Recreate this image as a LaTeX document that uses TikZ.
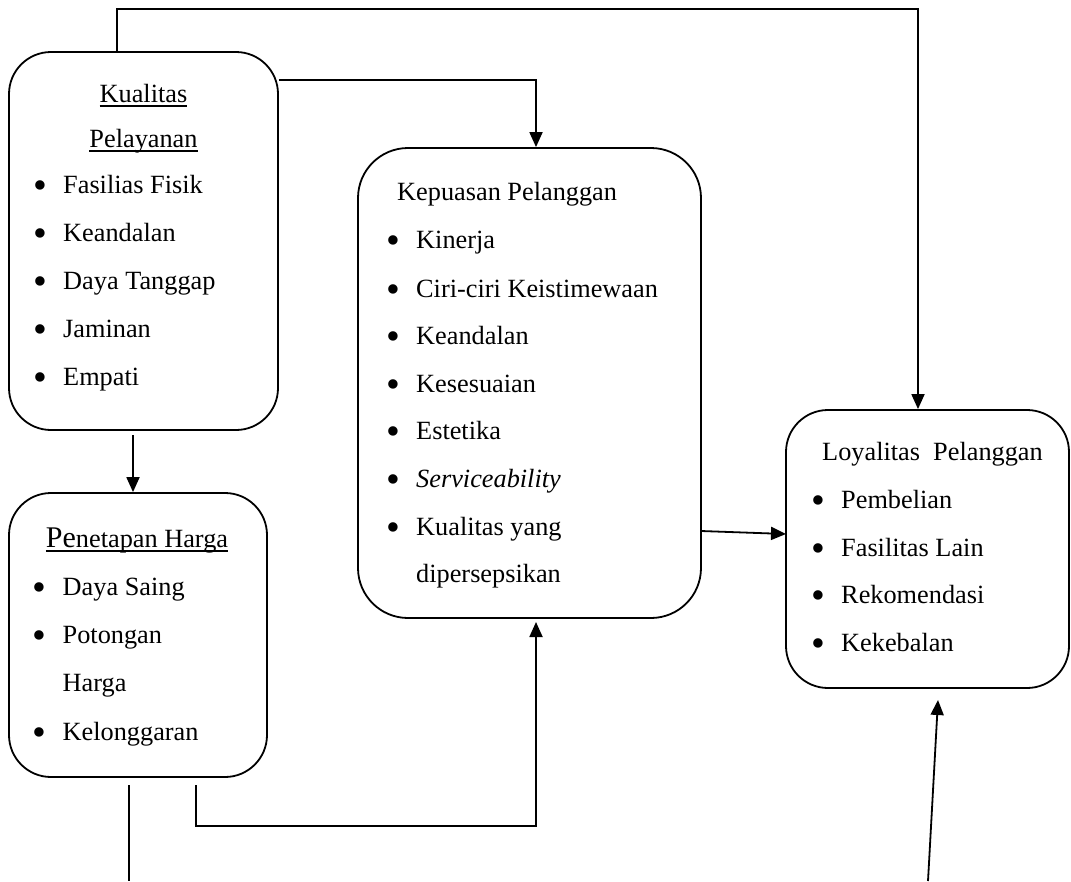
\documentclass[tikz,border=0pt]{standalone}
\usepackage{fontspec}
\setmainfont{Liberation Serif}
\usetikzlibrary{arrows.meta}
\newcommand\bul{\llap{\raisebox{-5pt}{\scalebox{1.5}{\textbullet}}\hspace{16pt}}}
\newcommand\myul[1]{\setbox0=\hbox{#1}\rlap{\rule[-4.5pt]{\wd0}{1.3pt}}\box0}
\begin{document}
\begin{tikzpicture}[x=1pt,y=-1pt,
  box/.style={draw, line width=1.8pt, rounded corners=42pt, inner sep=0pt},
  txt/.style={inner sep=0pt, anchor=base west, font=\fontsize{26.3}{30}\selectfont},
  ctr/.style={inner sep=0pt, anchor=base, font=\fontsize{26.3}{30}\selectfont},
  link/.style={line width=1.8pt},
  arr/.style={line width=1.8pt, -{Triangle[length=15pt,width=13pt]}}]
\useasboundingbox (0,0) rectangle (1071,881);
% boxes
\node[box, minimum width=269pt, minimum height=378pt] (b1) at (143.5,241) {};
\node[box, rounded corners=50pt, minimum width=343pt, minimum height=470pt] (b2) at (529.5,383) {};
\node[box, minimum width=258pt, minimum height=284pt] (b3) at (138,635) {};
\node[box, minimum width=283pt, minimum height=278pt] (b4) at (927.5,549) {};
% box 1 text
\node[ctr] (k0) at (143.5,102) {\myul{Kualitas}};
\node[ctr] (k1) at (143.5,147) {\myul{Pelayanan}};
\node[txt] (k2) at (63,193) {\bul Fasilias Fisik};
\node[txt] (k3) at (63,241) {\bul Keandalan};
\node[txt] (k4) at (63,289) {\bul Daya Tanggap};
\node[txt] (k5) at (63,337) {\bul Jaminan};
\node[txt] (k6) at (63,385) {\bul Empati};
% box 2 text
\node[txt] (p0) at (397,200) {Kepuasan Pelanggan};
\node[txt] (p1) at (416,248) {\bul Kinerja};
\node[txt] (p2) at (416,297) {\bul Ciri-ciri Keistimewaan};
\node[txt] (p3) at (416,344) {\bul Keandalan};
\node[txt] (p4) at (416,392) {\bul Kesesuaian};
\node[txt] (p5) at (416,439) {\bul Estetika};
\node[txt] (p6) at (416,487) {\bul \textit{Serviceability}};
\node[txt] (p7) at (416,535) {\bul Kualitas yang};
\node[txt] (p8) at (416,582) {dipersepsikan};
% box 3 text
\node[ctr] (h0) at (137,547) {\myul{{\fontsize{30}{30}\selectfont Pe}netapan Harga}};
\node[txt] (h1) at (62.5,595) {\bul Daya Saing};
\node[txt] (h2) at (62.5,643) {\bul Potongan};
\node[txt] (h3) at (62.5,691) {Harga};
\node[txt] (h4) at (62.5,740) {\bul Kelonggaran};
% box 4 text
\node[txt] (l0) at (822,460) {Loyalitas\ \ Pelanggan};
\node[txt] (l1) at (841,508) {\bul Pembelian};
\node[txt] (l2) at (841,556) {\bul Fasilitas Lain};
\node[txt] (l3) at (841,603) {\bul Rekomendasi};
\node[txt] (l4) at (841,651) {\bul Kekebalan};
% connector points
\coordinate (t1) at (117,9);
\coordinate (t2) at (918,9);
\coordinate (c1) at (536,80);
\coordinate (c2) at (133,435);
\coordinate (c3) at (196,785);
\coordinate (c4) at (536,826);
\coordinate (c5) at (536,622);
\coordinate (c6) at (129,785);
\coordinate (c7) at (129,881);
\coordinate (c8) at (701,531);
\coordinate (c9) at (786,534);
\coordinate (c10) at (928,881);
\coordinate (c11) at (938,700);
% connectors
\draw[arr] (b1.north -| t1) -- (t1) -- (t2) -- (b4.north -| t2);
\draw[arr] (b1.east |- c1) -- (c1) -- (b2.north -| c1);
\draw[arr] (c2) -- (b3.north -| c2);
\draw[arr] (c3) -- (c3 |- c4) -- (c4) -- (c5);
\draw[link] (c6) -- (c7);
\draw[arr] (c8) -- (c9);
\draw[arr] (c10) -- (c11);
\end{tikzpicture}
\end{document}
